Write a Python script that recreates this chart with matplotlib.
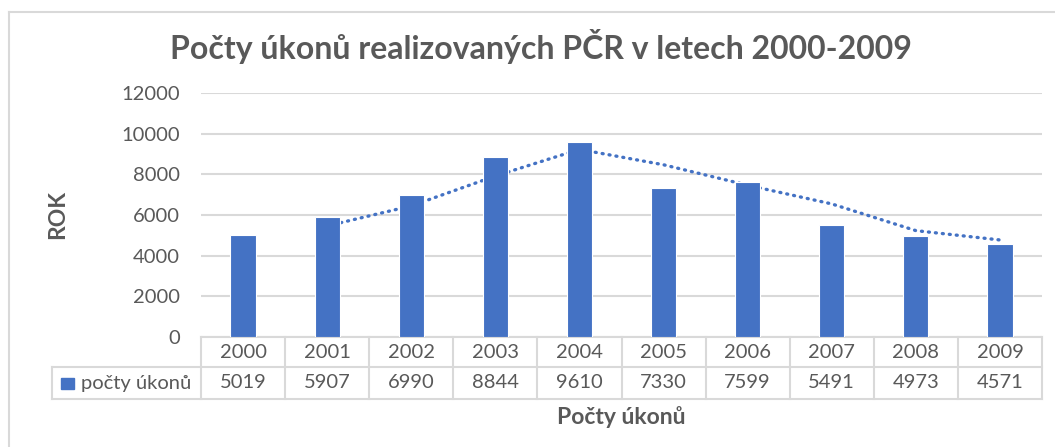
import numpy as np
import matplotlib.pyplot as plt
from matplotlib.patches import Rectangle
from matplotlib.lines import Line2D

years = ['2000', '2001', '2002', '2003', '2004', '2005', '2006', '2007', '2008', '2009']
counts = [5019, 5907, 6990, 8844, 9610, 7330, 7599, 5491, 4973, 4571]
# two-period moving average trendline as shown in the chart (starts at 2001)
trend_years = ['2001', '2002', '2003', '2004', '2005', '2006', '2007', '2008', '2009']
trend = [5463, 6448.5, 7917, 9227, 8470, 7464.5, 6545, 5232, 4772]
series_name = 'počty úkonů'

BLUE = '#4472C4'
GRID = '#D9D9D9'
TXT = '#595959'
W, H = 1055, 447
FS = 14.5

plt.rcParams['font.family'] = ['Lato', 'DejaVu Sans']

fig = plt.figure(figsize=(W / 100, H / 100), dpi=100)
fig.patch.set_facecolor('white')

# chart frame (top and left edges visible)
fig.add_artist(Line2D([9 / W, 1.0], [1 - 12 / H] * 2, color=GRID, lw=1.5))
fig.add_artist(Line2D([9 / W] * 2, [0, 1 - 12 / H], color=GRID, lw=1.5))

x0, x1, y0, y1 = 201, 1042, 337, 93
ax = fig.add_axes([x0 / W, 1 - y0 / H, (x1 - x0) / W, (y0 - y1) / H])
x = np.arange(len(years))
ax.bar(x, counts, width=0.3, color=BLUE, edgecolor='white', linewidth=0.8, zorder=3)
tx = [years.index(y) for y in trend_years]
ax.plot(tx, trend, color=BLUE, lw=2.4, linestyle=(0, (0.3, 1.8)),
        dash_capstyle='round', zorder=2)

ax.set_xlim(-0.5, len(years) - 0.5)
ax.set_ylim(0, 12000)
ax.set_yticks(range(0, 12001, 2000))
ax.yaxis.grid(True, color=GRID, lw=1.5, zorder=0)
ax.tick_params(axis='y', length=0, pad=15, labelsize=FS, labelcolor=TXT)
ax.set_xticks([])
for s in ax.spines.values():
    s.set_visible(False)

# data table under the axis
axh = y0 - y1
r1 = -30 / axh
r2 = -62 / axh
tl = (52 - x0) / ((x1 - x0) / len(years)) - 0.5
trans = ax.get_xaxis_transform()
lk = dict(color=GRID, lw=1.5, transform=trans, clip_on=False)
ax.plot([-0.5, 9.5], [0, 0], **lk)
ax.plot([tl, 9.5], [r1, r1], **lk)
ax.plot([tl, 9.5], [r2, r2], **lk)
ax.plot([tl, tl], [r1, r2], **lk)
for b in np.arange(-0.5, len(years), 1.0):
    ax.plot([b, b], [0, r2], **lk)
for i, (yr, c) in enumerate(zip(years, counts)):
    ax.text(i, r1 / 2, yr, transform=trans, ha='center', va='center',
            fontsize=FS, color=TXT)
    ax.text(i, (r1 + r2) / 2, str(c), transform=trans, ha='center', va='center',
            fontsize=FS, color=TXT)

# legend key in the table
ax.add_patch(Rectangle((-2.17, (r1 + r2) / 2 - 5.5 / axh), 13 / 84.1, 11 / axh,
                       transform=trans, color=BLUE, clip_on=False))
ax.text(-1.93, (r1 + r2) / 2, series_name, transform=trans, ha='left', va='center',
        fontsize=FS, color=TXT)

fig.text(58 / W, 1 - 215 / H, 'ROK', rotation=90, ha='center', va='center',
         fontsize=16.5, fontweight='bold', color=TXT)
fig.text((x0 + x1) / 2 / W, 1 - 417 / H, 'Počty úkonů', ha='center', va='center',
         fontsize=16.5, fontweight='bold', color=TXT)
fig.text(541 / W, 1 - 47 / H, 'Počty úkonů realizovaných PČR v letech 2000-2009',
         ha='center', va='center', fontsize=23, fontweight='bold', color=TXT)

fig.savefig('out.png', dpi=100, facecolor='white')
